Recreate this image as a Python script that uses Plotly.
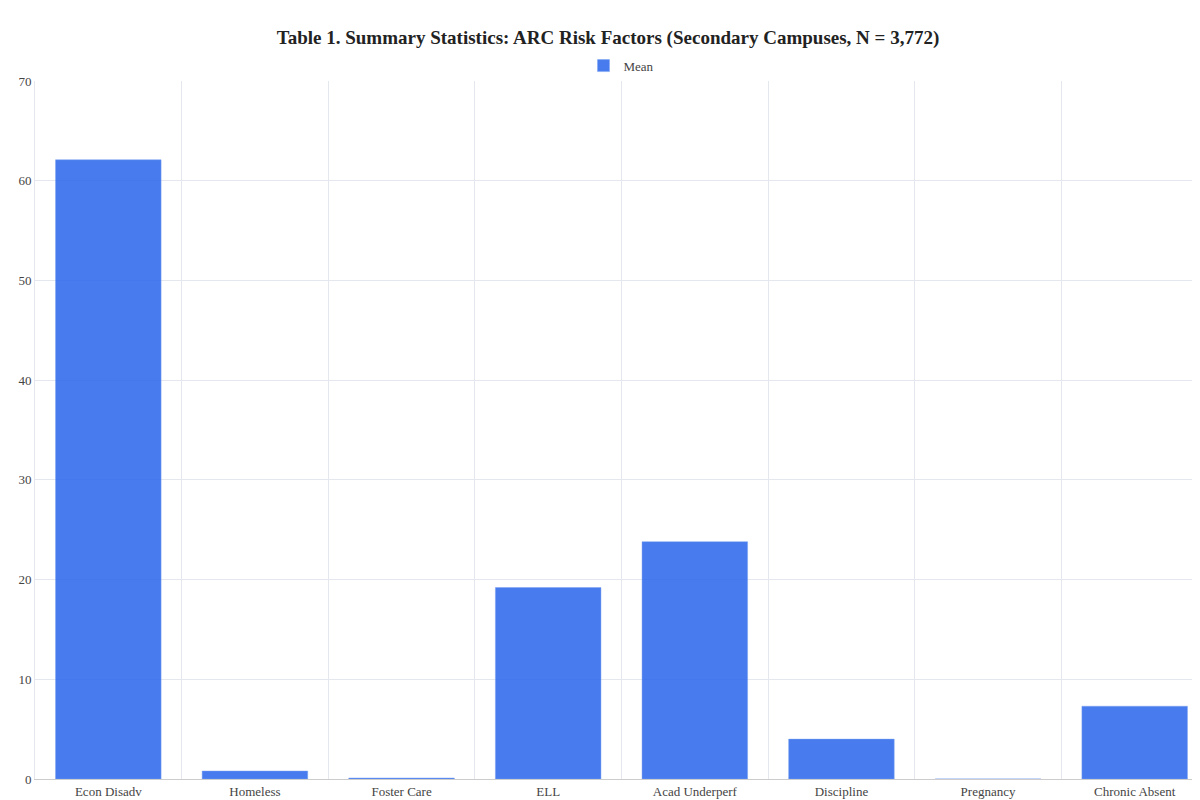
import plotly.graph_objects as go

categories = ["Econ Disadv", "Homeless", "Foster Care", "ELL", "Acad Underperf", "Discipline", "Pregnancy", "Chronic Absent"]
means = [62.1, 0.8, 0.1, 19.2, 23.8, 4.0, 0.01, 7.3]
yticks = [0, 10, 20, 30, 40, 50, 60, 70]

font = "Palatino Linotype, Book Antiqua, Palatino, Liberation Serif, serif"
xs = list(range(len(categories)))

fig = go.Figure(go.Bar(
    x=xs, y=means, name="Mean", width=0.72,
    marker=dict(color="rgba(37,99,235,0.84)", line=dict(color="rgba(120,160,240,0.9)", width=0.5)),
    showlegend=True,
))
fig.update_layout(
    width=1200, height=800,
    paper_bgcolor="white", plot_bgcolor="white",
    font=dict(family=font, size=13, color="#444"),
    title=dict(text="<b>Table 1. Summary Statistics: ARC Risk Factors (Secondary Campuses, N = 3,772)</b>",
               x=0.5, y=0.972, xanchor="center", font=dict(size=19, color="#222", family=font)),
    legend=dict(orientation="h", x=0.5, xanchor="center", y=1.022, yanchor="middle", font=dict(size=13)),
    margin=dict(l=27, r=0, t=73, b=29, autoexpand=False),
    bargap=0.28,
)
fig.update_xaxes(
    tickvals=xs, ticktext=categories, range=[-0.5, len(categories) - 0.5], automargin=False,
    showgrid=False, ticks="", showline=True, linecolor="#ccc",
    minor=dict(tickvals=[i + 0.5 for i in range(-1, len(categories))], showgrid=True, gridcolor="#e5e7ee"),
)
fig.update_yaxes(range=[0, 70], tickvals=yticks, gridcolor="#e5e7ee", zeroline=False, automargin=False,
                 showline=True, linecolor="#e5e7ee")
fig.write_html("out.html")
